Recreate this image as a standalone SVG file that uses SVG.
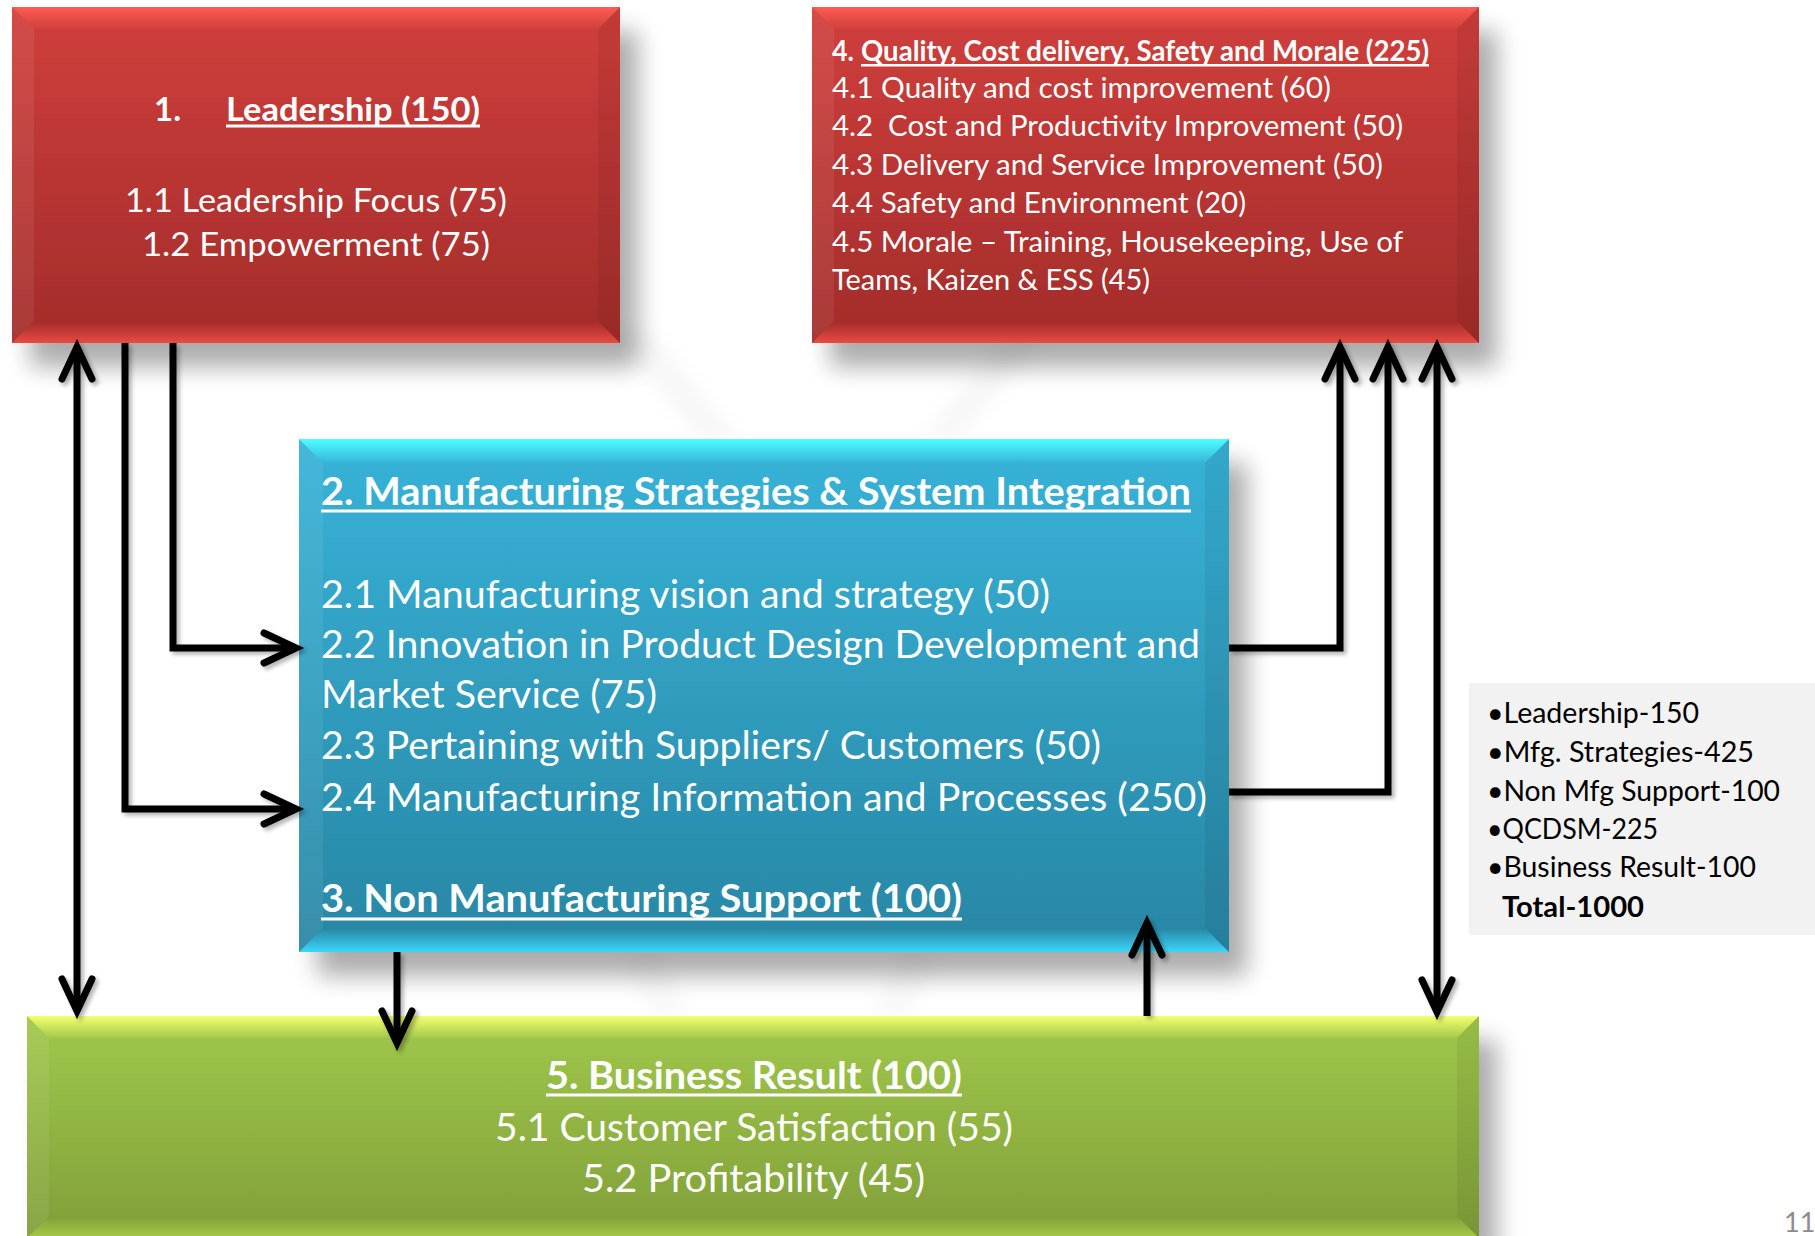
<svg xmlns="http://www.w3.org/2000/svg" width="1815" height="1236" viewBox="0 0 1815 1236">
<defs>
<style>
.t{font-family:Lato,"Open Sans","Liberation Sans",sans-serif;fill:#fff}
.b{font-weight:700}
.ul{fill:#fff}
.lead{font-size:33px}
.q{font-size:28.5px}
.m{font-size:38px}
.sum{font-family:Lato,"Open Sans","Liberation Sans",sans-serif;font-size:28px;fill:#000}
.conn{fill:none;stroke:#000;stroke-width:7;stroke-linejoin:miter}
.hl{fill:#fff;opacity:0.07}
.dk{fill:#000;opacity:0.06}
</style>
<filter id="shadow" x="-10%" y="-10%" width="130%" height="140%">
<feGaussianBlur in="SourceAlpha" stdDeviation="12"/>
<feOffset dx="18" dy="24"/>
<feComponentTransfer><feFuncA type="linear" slope="0.33"/></feComponentTransfer>
<feMerge><feMergeNode/><feMergeNode in="SourceGraphic"/></feMerge>
</filter>
<filter id="ashadow" x="-20%" y="-20%" width="140%" height="140%">
<feGaussianBlur in="SourceAlpha" stdDeviation="2"/>
<feOffset dx="3" dy="3"/>
<feComponentTransfer><feFuncA type="linear" slope="0.3"/></feComponentTransfer>
<feMerge><feMergeNode/><feMergeNode in="SourceGraphic"/></feMerge>
</filter>
<filter id="soft"><feGaussianBlur stdDeviation="8"/></filter>
<linearGradient id="redBody" x1="0" y1="0" x2="0" y2="1"><stop offset="0" stop-color="#d03f3c"/><stop offset="1" stop-color="#a22c2a"/></linearGradient>
<linearGradient id="redTop" x1="0" y1="0" x2="0" y2="1"><stop offset="0" stop-color="#ff5b53"/><stop offset="1" stop-color="#d0403c"/></linearGradient>
<linearGradient id="redBot" x1="0" y1="0" x2="0" y2="1"><stop offset="0" stop-color="#a22c2a"/><stop offset="1" stop-color="#ea4a43"/></linearGradient>
<linearGradient id="bluBody" x1="0" y1="0" x2="0" y2="1"><stop offset="0" stop-color="#37b3d8"/><stop offset="1" stop-color="#2886a4"/></linearGradient>
<linearGradient id="bluTop" x1="0" y1="0" x2="0" y2="1"><stop offset="0" stop-color="#4cffff"/><stop offset="1" stop-color="#37b4d9"/></linearGradient>
<linearGradient id="bluBot" x1="0" y1="0" x2="0" y2="1"><stop offset="0" stop-color="#2886a4"/><stop offset="1" stop-color="#3cd6fa"/></linearGradient>
<linearGradient id="grnBody" x1="0" y1="0" x2="0" y2="1"><stop offset="0" stop-color="#a0c84b"/><stop offset="1" stop-color="#809f39"/></linearGradient>
<linearGradient id="grnTop" x1="0" y1="0" x2="0" y2="1"><stop offset="0" stop-color="#f6ff6e"/><stop offset="1" stop-color="#a2ca4c"/></linearGradient>
<linearGradient id="grnBot" x1="0" y1="0" x2="0" y2="1"><stop offset="0" stop-color="#809f39"/><stop offset="1" stop-color="#a6ca48"/></linearGradient>
<marker id="ah" markerUnits="userSpaceOnUse" markerWidth="44" markerHeight="40" refX="36" refY="20" orient="auto-start-reverse" overflow="visible">
<path d="M4,5 L36,20 L4,35" fill="none" stroke="#000" stroke-width="7" stroke-linecap="round" stroke-linejoin="miter"/>
</marker>
</defs>
<rect width="1815" height="1236" fill="#fff"/>
<g id="background-rays" filter="url(#soft)" opacity="0.3">
<polygon points="610,330 650,330 740,440 700,440" fill="#e6e6e6"/>
<polygon points="1010,330 1050,330 960,440 920,440" fill="#e6e6e6"/>
<polygon points="620,952 660,952 690,1016 650,1016" fill="#ececec"/>
<polygon points="900,952 940,952 910,1016 870,1016" fill="#ececec"/>
</g>
<g id="node-leadership">
<rect x="12" y="7" width="608" height="336" fill="url(#redBody)" filter="url(#shadow)"/>
<polygon points="12,7 620,7 598,29 34,29" fill="url(#redTop)"/>
<polygon points="12,343 620,343 598,321 34,321" fill="url(#redBot)"/>
<polygon points="12,7 34,29 34,321 12,343" class="hl"/>
<polygon points="620,7 598,29 598,321 620,343" class="dk"/>
<text class="t b lead" x="154" y="121" textLength="27" lengthAdjust="spacingAndGlyphs">1.</text>
<text class="t b lead" x="226" y="121" textLength="254" lengthAdjust="spacingAndGlyphs">Leadership (150)</text>
<rect class="ul" x="226" y="124.5" width="254" height="3"/>
<text class="t lead" x="125" y="212" textLength="382" lengthAdjust="spacingAndGlyphs">1.1 Leadership Focus (75)</text>
<text class="t lead" x="142" y="256" textLength="348" lengthAdjust="spacingAndGlyphs">1.2 Empowerment (75)</text>
</g>
<g id="node-qcdsm">
<rect x="812" y="7" width="667" height="336" fill="url(#redBody)" filter="url(#shadow)"/>
<polygon points="812,7 1479,7 1457,29 834,29" fill="url(#redTop)"/>
<polygon points="812,343 1479,343 1457,321 834,321" fill="url(#redBot)"/>
<polygon points="812,7 834,29 834,321 812,343" class="hl"/>
<polygon points="1479,7 1457,29 1457,321 1479,343" class="dk"/>
<text class="t b q" x="832" y="61" textLength="22" lengthAdjust="spacingAndGlyphs">4.</text>
<text class="t b q" x="861" y="61" textLength="568" lengthAdjust="spacingAndGlyphs">Quality, Cost delivery, Safety and Morale (225)</text>
<rect class="ul" x="861" y="64" width="568" height="2.5"/>
<text class="t q" x="832" y="98" textLength="499" lengthAdjust="spacingAndGlyphs">4.1 Quality and cost improvement (60)</text>
<text class="t q" x="832" y="136" textLength="571" lengthAdjust="spacingAndGlyphs" xml:space="preserve">4.2  Cost and Productivity Improvement (50)</text>
<text class="t q" x="832" y="175" textLength="551" lengthAdjust="spacingAndGlyphs">4.3 Delivery and Service Improvement (50)</text>
<text class="t q" x="832" y="213" textLength="414" lengthAdjust="spacingAndGlyphs">4.4 Safety and Environment (20)</text>
<text class="t q" x="832" y="252" textLength="571" lengthAdjust="spacingAndGlyphs">4.5 Morale – Training, Housekeeping, Use of</text>
<text class="t q" x="832" y="290" textLength="318" lengthAdjust="spacingAndGlyphs">Teams, Kaizen &amp; ESS (45)</text>
</g>
<g id="node-manufacturing">
<rect x="299" y="439" width="930" height="513" fill="url(#bluBody)" filter="url(#shadow)"/>
<polygon points="299,439 1229,439 1205,463 323,463" fill="url(#bluTop)"/>
<polygon points="299,952 1229,952 1205,928 323,928" fill="url(#bluBot)"/>
<polygon points="299,439 323,463 323,928 299,952" class="hl"/>
<polygon points="1229,439 1205,463 1205,928 1229,952" class="dk"/>
<text class="t b m" x="321" y="505" textLength="870" lengthAdjust="spacingAndGlyphs">2. Manufacturing Strategies &amp; System Integration</text>
<rect class="ul" x="321" y="509.5" width="870" height="3"/>
<text class="t m" x="321" y="608" textLength="729" lengthAdjust="spacingAndGlyphs">2.1 Manufacturing vision and strategy (50)</text>
<text class="t m" x="321" y="658" textLength="879" lengthAdjust="spacingAndGlyphs">2.2 Innovation in Product Design Development and</text>
<text class="t m" x="321" y="708" textLength="336" lengthAdjust="spacingAndGlyphs">Market Service (75)</text>
<text class="t m" x="321" y="759" textLength="780" lengthAdjust="spacingAndGlyphs">2.3 Pertaining with Suppliers/ Customers (50)</text>
<text class="t m" x="321" y="811" textLength="886" lengthAdjust="spacingAndGlyphs">2.4 Manufacturing Information and Processes (250)</text>
<text class="t b m" x="321" y="912" textLength="641" lengthAdjust="spacingAndGlyphs">3. Non Manufacturing Support (100)</text>
<rect class="ul" x="321" y="917.5" width="641" height="3"/>
</g>
<g id="node-business">
<rect x="27" y="1016" width="1452" height="222" fill="url(#grnBody)" filter="url(#shadow)"/>
<polygon points="27,1016 1479,1016 1457,1038 49,1038" fill="url(#grnTop)"/>
<polygon points="27,1238 1479,1238 1457,1216 49,1216" fill="url(#grnBot)"/>
<polygon points="27,1016 49,1038 49,1216 27,1238" class="hl"/>
<polygon points="1479,1016 1457,1038 1457,1216 1479,1238" class="dk"/>
<text class="t b m" x="546" y="1089" textLength="416" lengthAdjust="spacingAndGlyphs">5. Business Result (100)</text>
<rect class="ul" x="546" y="1093.5" width="416" height="3"/>
<text class="t m" x="495" y="1141" textLength="518" lengthAdjust="spacingAndGlyphs">5.1 Customer Satisfaction (55)</text>
<text class="t m" x="582" y="1192" textLength="343" lengthAdjust="spacingAndGlyphs">5.2 Profitability (45)</text>
</g>
<g id="node-summary">
<rect x="1469" y="683" width="346" height="252" fill="#f2f2f2"/>
<text class="sum" x="1487" y="723" textLength="212" lengthAdjust="spacingAndGlyphs">•Leadership-150</text>
<text class="sum" x="1487" y="762" textLength="267" lengthAdjust="spacingAndGlyphs">•Mfg. Strategies-425</text>
<text class="sum" x="1487" y="801" textLength="293" lengthAdjust="spacingAndGlyphs">•Non Mfg Support-100</text>
<text class="sum" x="1487" y="839" textLength="171" lengthAdjust="spacingAndGlyphs">•QCDSM-225</text>
<text class="sum" x="1487" y="877" textLength="269" lengthAdjust="spacingAndGlyphs">•Business Result-100</text>
<text class="sum b" x="1502" y="917" textLength="142" lengthAdjust="spacingAndGlyphs">Total-1000</text>
</g>
<g id="page-number">
<text x="1784" y="1232" font-family="Lato,'Liberation Sans',sans-serif" font-size="27" fill="#8c8c8c">11</text>
</g>
<g id="connectors" filter="url(#ashadow)">
<path class="conn" d="M77,347 V1011" marker-start="url(#ah)" marker-end="url(#ah)"/>
<path class="conn" d="M125,343 V809 H296" marker-end="url(#ah)"/>
<path class="conn" d="M173,343 V648 H296" marker-end="url(#ah)"/>
<path class="conn" d="M397,952 V1043" marker-end="url(#ah)"/>
<path class="conn" d="M1147,1016 V923" marker-end="url(#ah)"/>
<path class="conn" d="M1229,648 H1340 V347" marker-end="url(#ah)"/>
<path class="conn" d="M1229,792 H1388 V347" marker-end="url(#ah)"/>
<path class="conn" d="M1437,347 V1012" marker-start="url(#ah)" marker-end="url(#ah)"/>
</g>
</svg>
